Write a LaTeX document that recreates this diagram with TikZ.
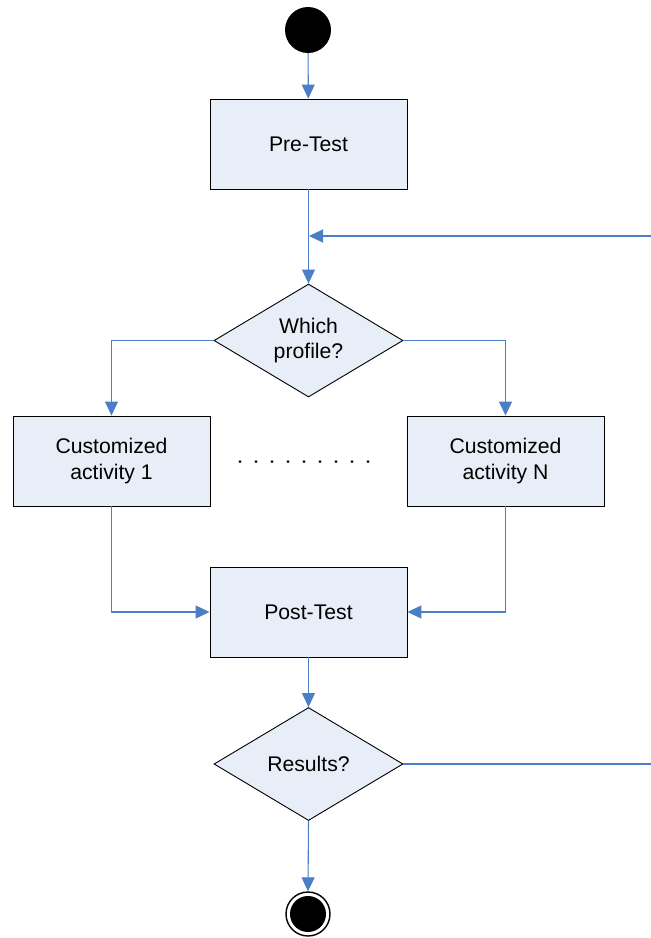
\documentclass[tikz,border=0pt]{standalone}
\usepackage{fontspec}
\setmainfont{Liberation Sans}
\usetikzlibrary{shapes.geometric,arrows.meta}
\definecolor{boxfill}{HTML}{E8EEF7}
\definecolor{flow}{HTML}{4A7EC7}
\begin{document}
\begin{tikzpicture}[x=1pt,y=-1pt,
  actbox/.style={draw=black,fill=boxfill,line width=0.9pt,minimum width=197pt,minimum height=90pt,inner sep=0pt,align=center,font=\fontsize{21.2}{25.5}\selectfont},
  decis/.style={draw=black,fill=boxfill,line width=0.9pt,diamond,minimum width=189pt,minimum height=113pt,inner sep=0pt,align=center,font=\fontsize{21.2}{25.5}\selectfont,aspect=1.67},
  flowline/.style={draw=flow,line width=1.1pt},
  flowarrow/.style={flowline,-{Triangle[length=14pt,width=13pt]}}]
\useasboundingbox (0,0) rectangle (651,938);
\node[circle,fill=black,minimum size=46pt,inner sep=0pt] (start) at (308,30) {};
\node[actbox] (pre) at (308.5,144) {Pre-Test};
\node[decis] (which) at (308.5,340.5) {Which\\profile?};
\node[actbox] (ca1) at (111.5,461) {Customized\\activity 1};
\node[actbox] (caN) at (505.5,461) {Customized\\activity N};
\node[actbox] (post) at (308.5,612) {Post-Test};
\node[decis] (res) at (308.5,764) {Results?};
\node[circle,draw=black,line width=1.4pt,fill=white,minimum size=44pt,inner sep=0pt] (endo) at (308,914) {};
\node[circle,fill=black,minimum size=36pt,inner sep=0pt] (endi) at (308,914) {};
\coordinate (loopin) at (651,236);
\coordinate (merge) at (309,236);
\coordinate (loopout) at (651,764);
\foreach \i in {0,...,8} \fill (240+16*\i,461.5) circle (1.5pt);
\draw[flowarrow] (start) -- (pre);
\draw[flowarrow] (pre.south) -- (which.north);
\draw[flowarrow] (loopin) -- (merge);
\draw[flowarrow] (which.west) -| (ca1.north);
\draw[flowarrow] (which.east) -| (caN.north);
\draw[flowarrow] (ca1.south) |- (post.west);
\draw[flowarrow] (caN.south) |- (post.east);
\draw[flowarrow] (post.south) -- (res.north);
\draw[flowline] (res.east) -- (loopout);
\draw[flowarrow] (res.south) -- (endo.north);
\end{tikzpicture}
\end{document}
